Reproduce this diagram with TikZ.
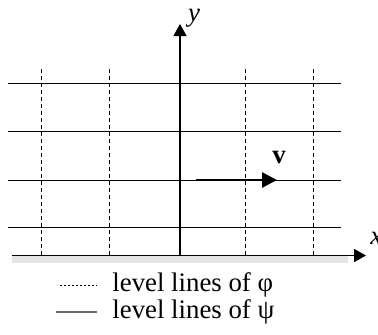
\documentclass[tikz,border=0pt]{standalone}
\usepackage{fontspec}
\setmainfont{Liberation Serif}
\usetikzlibrary{arrows.meta}
\begin{document}
\begin{tikzpicture}[x=0.5pt,y=-0.5pt,
  level/.style={line width=0.5pt},
  dashlevel/.style={line width=0.5pt, dash pattern=on 2pt off 1.5pt},
  axis/.style={line width=0.8pt, -{Triangle[length=6pt,width=6.5pt]}},
  vec/.style={line width=1.4pt, -{Triangle[length=7.5pt,width=7.5pt]}},
  lab/.style={font=\fontsize{13.4}{15}\selectfont, inner sep=0pt}]
\useasboundingbox (0,0) rectangle (378,334);
% gray band
\fill[black!10] (12,256) rectangle (348,263);
% horizontal level lines (psi)
\foreach \yy in {83.5,131.5,180,227.5}{
  \draw[level] (8,\yy) -- (341,\yy);
}
% vertical level lines (phi)
\foreach \xx in {41,109.5,245.5,313.5}{
  \draw[dashlevel] (\xx,69) -- (\xx,255.5);
}
% axes
\coordinate (o) at (180,255.5);
\coordinate (xs) at (12,255.5);
\coordinate (xe) at (366,255.5);
\coordinate (ye) at (180,24);
\draw[axis] (xs) -- (xe);
\draw[axis] (o) -- (ye);
\node[lab] (ylab) at (194,18) {\itshape y};
\node[lab, anchor=west] (xlab) at (370,238) {\itshape x};
% vector v
\coordinate (vs) at (196,180);
\coordinate (ve) at (277,180);
\draw[vec] (vs) -- (ve);
\node[lab] (vlab) at (279,157) {\textbf{v}};
% legend
\coordinate (l1a) at (60,285);
\coordinate (l1b) at (97,285);
\coordinate (l2a) at (56,312);
\coordinate (l2b) at (97,312);
\draw[line width=0.5pt, dash pattern=on 1pt off 1pt] (l1a) -- (l1b);
\draw[line width=0.6pt, black!60] (l2a) -- (l2b);
\node[lab, anchor=west] (t1) at (112,285) {level lines of φ};
\node[lab, anchor=west] (t2) at (112,312) {level lines of ψ};
\end{tikzpicture}
\end{document}
